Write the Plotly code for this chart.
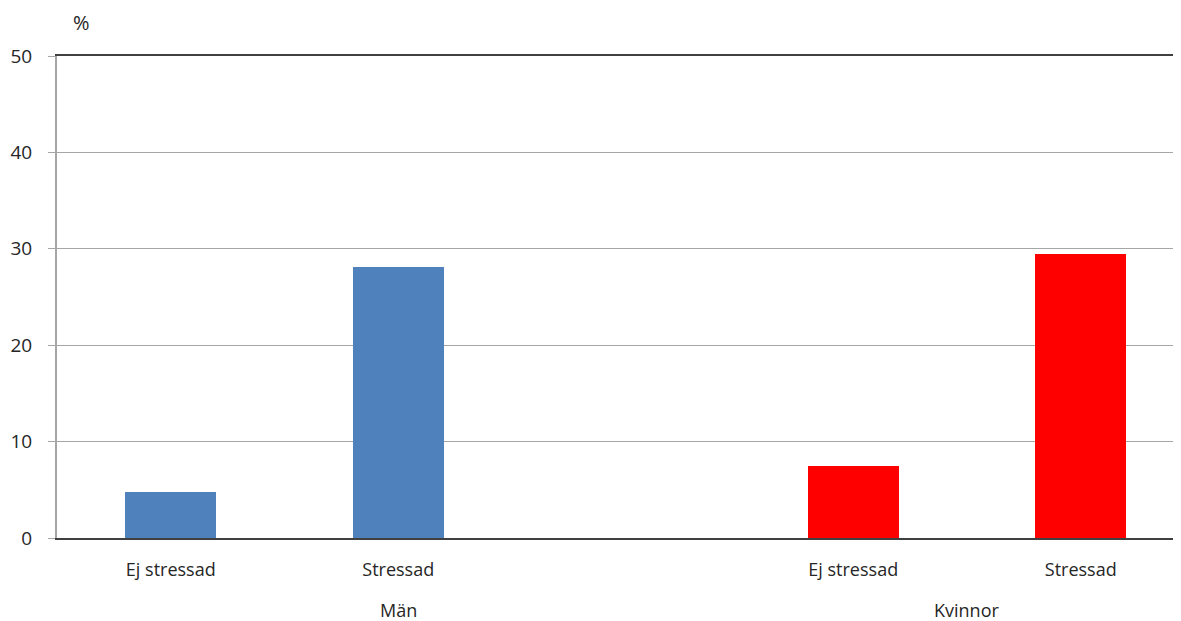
import plotly.graph_objects as go

categories = ["Ej stressad", "Stressad", "", "Ej stressad", "Stressad"]
groups = ["Män", "Kvinnor"]
man_values = [4.8, 28.1]
kvinnor_values = [7.5, 29.5]
y_ticks = [0, 10, 20, 30, 40, 50]

# slot positions: Män group occupies slots 0-2 (incl. empty spacer), Kvinnor 3-4
man_slots = [0, 1, 2]
kv_slots = [3, 4]
man_x = man_slots[:2]
kv_x = kv_slots

fig = go.Figure()
fig.add_trace(go.Bar(x=man_x, y=man_values, width=0.4, marker_color="#4F81BD",
                     marker_line_width=0, showlegend=False))
fig.add_trace(go.Bar(x=kv_x, y=kvinnor_values, width=0.4, marker_color="#FF0000",
                     marker_line_width=0, showlegend=False))

txt = "#262626"
font = dict(family="Open Sans, Noto Sans, sans-serif", size=18, color=txt)

fig.update_layout(
    width=1181, height=613,
    margin=dict(l=49, r=0, t=48, b=83),
    paper_bgcolor="white", plot_bgcolor="white",
    font=font,
    bargap=0,
    xaxis=dict(
        range=[-0.5, 4.476],
        tickvals=man_slots + kv_slots,
        ticktext=categories,
        ticks="",
        showgrid=False,
        zeroline=False,
        showline=True, linecolor="#404040", linewidth=2, mirror=True,
        ticklabelstandoff=14,
        tickfont=dict(size=18, color=txt),
    ),
    yaxis=dict(
        range=[0, 50],
        tickvals=y_ticks,
        showgrid=True, gridcolor="#A6A6A6", gridwidth=1,
        zeroline=False,
        showline=True, linecolor="#A6A6A6", linewidth=2,
        ticks="outside", ticklen=7, tickcolor="#A6A6A6", tickwidth=1,
        ticklabelstandoff=12,
        tickfont=dict(size=19, color=txt),
    ),
    annotations=[
        dict(text="%", x=0, xref="paper", y=1, yref="paper", xanchor="left", yanchor="middle",
             xshift=14, yshift=34, showarrow=False, font=dict(size=20, color=txt)),
        dict(text=groups[0], x=sum(man_slots) / len(man_slots), xref="x", y=0, yref="paper",
             yanchor="middle", yshift=-72, showarrow=False, font=dict(size=18, color=txt)),
        dict(text=groups[1], x=sum(kv_slots) / len(kv_slots), xref="x", y=0, yref="paper",
             yanchor="middle", yshift=-72, showarrow=False, font=dict(size=18, color=txt)),
    ],
)

fig.write_html("out.html")
